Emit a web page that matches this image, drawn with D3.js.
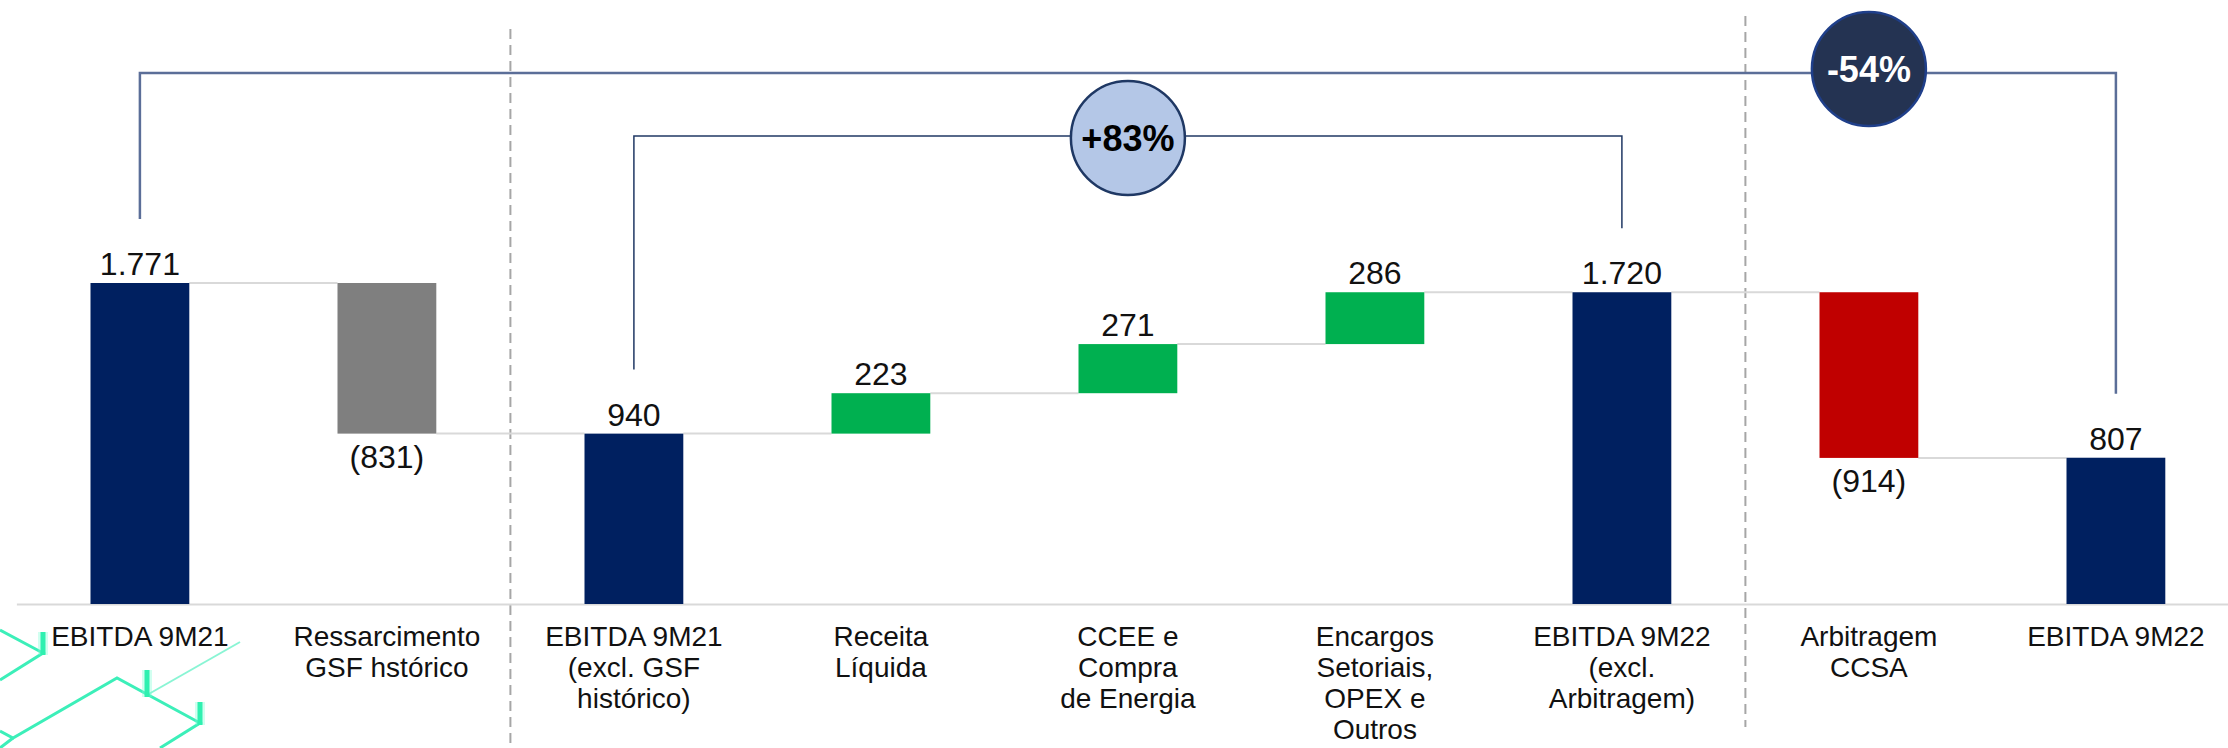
<!DOCTYPE html>
<html>
<head>
<meta charset="utf-8">
<script src="https://cdn.jsdelivr.net/npm/d3@7"></script>
<style>
  body { margin: 0; background: #fff; }
  svg text { font-family: "Liberation Sans", Arial, sans-serif; }
</style>
</head>
<body>
<script>

// chart data
var categories = ["EBITDA 9M21", "Ressarcimento GSF hstórico", "EBITDA 9M21 (excl. GSF histórico)",
	"Receita Líquida", "CCEE e Compra de Energia", "Encargos Setoriais, OPEX e Outros",
	"EBITDA 9M22 (excl. Arbitragem)", "Arbitragem CCSA", "EBITDA 9M22"];
var categoryLines = [
	["EBITDA 9M21"],
	["Ressarcimento", "GSF hstórico"],
	["EBITDA 9M21", "(excl. GSF", "histórico)"],
	["Receita", "Líquida"],
	["CCEE e", "Compra", "de Energia"],
	["Encargos", "Setoriais,", "OPEX e", "Outros"],
	["EBITDA 9M22", "(excl.", "Arbitragem)"],
	["Arbitragem", "CCSA"],
	["EBITDA 9M22"]
];
var values = [1771, -831, 940, 223, 271, 286, 1720, -914, 807];
var kinds = ["total", "delta", "total", "delta", "delta", "delta", "total", "delta", "total"];
// growth brackets: from bar, to bar, bubble over bar
var growthFrom = [0, 2];
var growthTo = [8, 6];
var growthAt = [7, 4];
var growthLabels = ["-54%", "+83%"];
// separators sit between these bars
var dividerAfter = [1, 6];

var width = 2228, height = 748;

var svg = d3.select("body").append("svg")
	.attr("width", width)
	.attr("height", height);

var x = d3.scaleBand()
	.domain(categories)
	.range([16.4, 2239.4])
	.paddingInner(0.6)
	.paddingOuter(0.3);

var y = d3.scaleLinear()
	.domain([0, 1771])
	.range([604, 283]);

var color = d3.scaleOrdinal()
	.domain(categories)
	.range(["#002060", "#7f7f7f", "#002060", "#00b050", "#00b050", "#00b050", "#002060", "#c00000", "#002060"]);

var br = d3.formatLocale({decimal: ",", thousands: ".", grouping: [3], currency: ["R$", ""]});
var fmt = br.format(",d");

// running totals for the waterfall
var level = 0;
var bars = values.map(function(v, i){
	var b = {cat: categories[i], v: v, kind: kinds[i]};
	if(kinds[i] === "total"){
		b.y0 = 0; b.y1 = v; level = v;
	} else {
		b.y0 = level; b.y1 = level + v; level += v;
	}
	b.level = level;
	return b;
});

// decoration bottom-left (slide background)
var deco = svg.append("g").attr("class", "deco");
var decoLines = [
	[[0, 630], [43, 653], [0, 680]],
	[[0, 731], [13, 738], [117, 678], [200, 723], [160, 748]],
	[[0, 748], [13, 738]]
];
decoLines.forEach(function(p){
	deco.append("path")
		.attr("d", d3.line()(p))
		.attr("fill", "none")
		.attr("stroke", "#3cefb9")
		.attr("stroke-width", 3);
});
deco.append("path")
	.attr("d", d3.line()([[240, 642], [147, 695]]))
	.attr("stroke", "#3cefb9").attr("stroke-width", 2).attr("opacity", 0.6);
[[43, 632, 655], [147, 670, 697], [200, 702, 725]].forEach(function(t){
	deco.append("line")
		.attr("x1", t[0]).attr("x2", t[0]).attr("y1", t[1]).attr("y2", t[2])
		.attr("stroke", "#7dffd6").attr("stroke-width", 10).attr("opacity", 0.35);
	deco.append("line")
		.attr("x1", t[0]).attr("x2", t[0]).attr("y1", t[1]).attr("y2", t[2])
		.attr("stroke", "#2ff0b0").attr("stroke-width", 5);
});

// dashed separators
var dividerTop = [29, 16], dividerBottom = [748, 727];
dividerAfter.forEach(function(i, k){
	var dx = (x(categories[i]) + x(categories[i + 1]) + x.bandwidth()) / 2;
	svg.append("line")
		.attr("x1", dx).attr("x2", dx)
		.attr("y1", dividerTop[k]).attr("y2", dividerBottom[k])
		.attr("stroke", "#a6a6a6")
		.attr("stroke-width", 2)
		.attr("stroke-dasharray", "10,6");
});

// baseline
svg.append("g")
	.attr("transform", "translate(0," + y(0) + ")")
	.call(d3.axisBottom(x).tickSize(0).tickFormat(""))
	.call(function(g){ g.select(".domain").attr("stroke", "#d9d9d9").attr("stroke-width", 2); });

// connectors between bars
svg.selectAll("line.conn")
	.data(bars.slice(0, -1))
	.enter().append("line")
	.attr("class", "conn")
	.attr("x1", function(d){ return x(d.cat) + x.bandwidth(); })
	.attr("x2", function(d, i){ return x(categories[i + 1]); })
	.attr("y1", function(d){ return y(d.level); })
	.attr("y2", function(d){ return y(d.level); })
	.attr("stroke", "#d9d9d9")
	.attr("stroke-width", 2);

// bars
svg.selectAll("rect.bar")
	.data(bars)
	.enter().append("rect")
	.attr("class", "bar")
	.attr("x", function(d){ return x(d.cat); })
	.attr("width", x.bandwidth())
	.attr("y", function(d){ return y(Math.max(d.y0, d.y1)); })
	.attr("height", function(d){ return Math.abs(y(d.y0) - y(d.y1)); })
	.attr("fill", function(d){ return color(d.cat); });

// value labels
svg.selectAll("text.val")
	.data(bars)
	.enter().append("text")
	.attr("class", "val")
	.attr("x", function(d){ return x(d.cat) + x.bandwidth() / 2; })
	.attr("y", function(d){
		return d.v < 0 ? y(Math.min(d.y0, d.y1)) + 34 : y(Math.max(d.y0, d.y1)) - 8;
	})
	.attr("text-anchor", "middle")
	.attr("font-size", 32)
	.attr("fill", "#111")
	.text(function(d){ return d.v < 0 ? "(" + fmt(-d.v) + ")" : fmt(d.v); });

// category labels
var cat = svg.selectAll("text.cat")
	.data(categories)
	.enter().append("text")
	.attr("class", "cat")
	.attr("text-anchor", "middle")
	.attr("font-size", 28)
	.attr("fill", "#111");
cat.selectAll("tspan")
	.data(function(d, i){ return categoryLines[i].map(function(t){ return {t: t, c: d}; }); })
	.enter().append("tspan")
	.attr("x", function(d){ return x(d.c) + x.bandwidth() / 2; })
	.attr("y", function(d, j){ return 646 + j * 31; })
	.text(function(d){ return d.t; });

// growth brackets
var bracketY = [73, 136];
var bracketStroke = ["#5b6e98", "#203864"];
var bracketWidth = [2.5, 1.5];
var bubbleFill = ["#243352", "#b4c7e7"];
var bubbleStroke = ["#1f3f8a", "#1f3864"];
var bubbleText = ["#fff", "#000"];
growthLabels.forEach(function(lab, k){
	var a = categories[growthFrom[k]], b = categories[growthTo[k]], c = categories[growthAt[k]];
	var xa = x(a) + x.bandwidth() / 2, xb = x(b) + x.bandwidth() / 2, xc = x(c) + x.bandwidth() / 2;
	var pts = [[xa, y(values[growthFrom[k]]) - 64], [xa, bracketY[k]], [xb, bracketY[k]], [xb, y(values[growthTo[k]]) - 64]];
	svg.append("path")
		.attr("d", d3.line()(pts))
		.attr("fill", "none")
		.attr("stroke", bracketStroke[k])
		.attr("stroke-width", bracketWidth[k]);
	svg.append("circle")
		.attr("cx", xc)
		.attr("cy", bracketY[k] - (k === 0 ? 4 : -2))
		.attr("r", 57)
		.attr("fill", bubbleFill[k])
		.attr("stroke", bubbleStroke[k])
		.attr("stroke-width", 2.5);
	svg.append("text")
		.attr("x", xc)
		.attr("y", bracketY[k] - (k === 0 ? 4 : -2))
		.attr("dy", "0.35em")
		.attr("text-anchor", "middle")
		.attr("font-size", 36)
		.attr("font-weight", "bold")
		.attr("fill", bubbleText[k])
		.text(lab);
});
</script>
</body>
</html>
